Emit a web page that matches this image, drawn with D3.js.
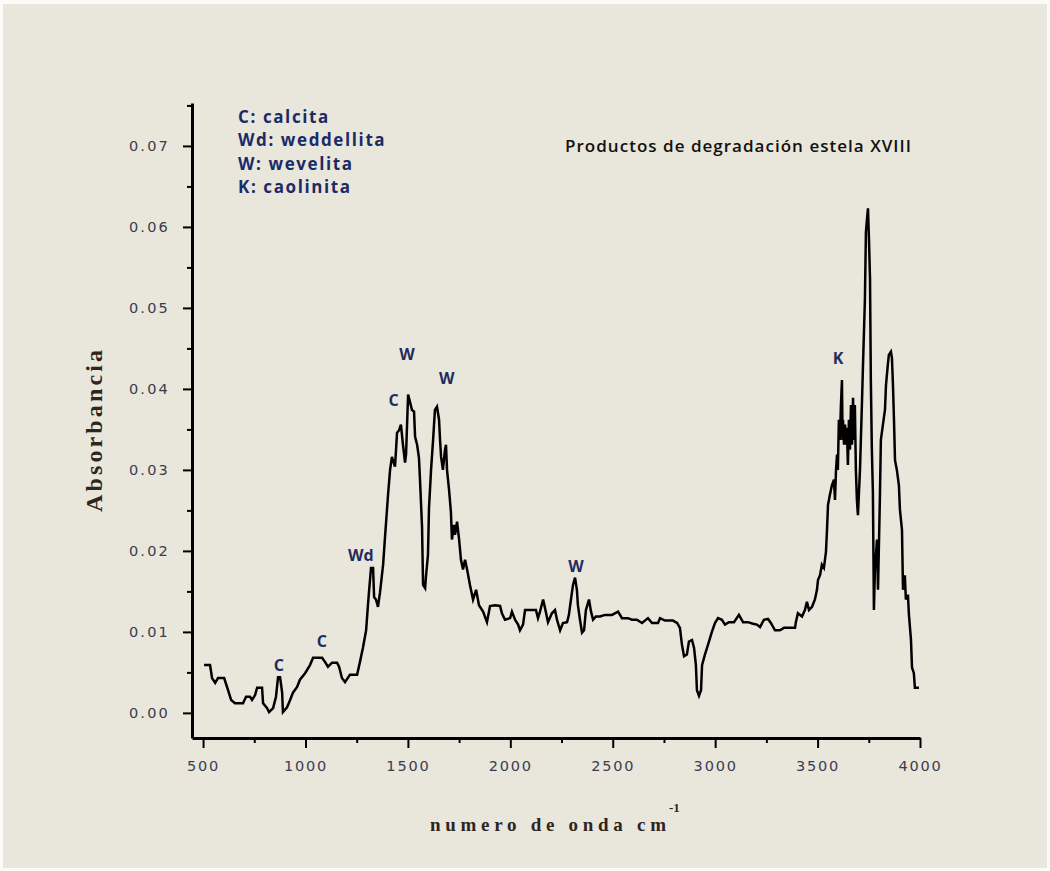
<!DOCTYPE html>
<html>
<head>
<meta charset="utf-8">
<script src="https://cdn.jsdelivr.net/npm/d3@7"></script>
<style>
  html, body { margin: 0; padding: 0; background: #fbfbf8; }
  svg { display: block; }
</style>
</head>
<body>
<div id="chart"></div>
<script>
// spectrum: wavenumber (cm-1) and absorbance
const wavenumber = [
  505, 534, 544, 559, 573, 603, 622, 637, 656, 695, 710, 729, 739, 754, 764, 788, 793, 812, 822, 842,
  856, 866, 876, 886, 890, 910, 925, 939, 959, 973, 998, 1022, 1037, 1081, 1095, 1110, 1130, 1154, 1164, 1178,
  1193, 1217, 1252, 1266, 1281, 1296, 1305, 1310, 1320, 1330, 1335, 1344, 1354, 1364, 1379, 1388, 1403, 1413, 1422, 1437,
  1447, 1457, 1466, 1476, 1486, 1491, 1501, 1510, 1520, 1530, 1535, 1545, 1554, 1559, 1569, 1574, 1584, 1588, 1598, 1603,
  1613, 1623, 1632, 1642, 1652, 1657, 1662, 1671, 1681, 1686, 1691, 1701, 1710, 1715, 1725, 1730, 1740, 1750, 1759, 1769,
  1779, 1789, 1803, 1818, 1833, 1847, 1867, 1886, 1901, 1925, 1950, 1959, 1974, 1999, 2008, 2023, 2038, 2047, 2062, 2072,
  2096, 2125, 2135, 2145, 2160, 2169, 2184, 2203, 2218, 2228, 2243, 2257, 2277, 2286, 2296, 2306, 2316, 2325, 2330, 2340,
  2350, 2360, 2369, 2384, 2394, 2404, 2418, 2438, 2462, 2496, 2526, 2545, 2574, 2594, 2618, 2643, 2672, 2692, 2721, 2731,
  2755, 2794, 2814, 2828, 2838, 2848, 2862, 2872, 2887, 2897, 2906, 2911, 2921, 2931, 2936, 2950, 2965, 2984, 2999, 3014,
  3033, 3048, 3067, 3092, 3116, 3136, 3160, 3185, 3204, 3219, 3238, 3258, 3272, 3292, 3316, 3336, 3365, 3390, 3394, 3404,
  3424, 3438, 3448, 3458, 3473, 3487, 3497, 3502, 3512, 3521, 3531, 3541, 3546, 3551, 3560, 3570, 3580, 3585, 3590, 3595,
  3599, 3604, 3609, 3614, 3619, 3622, 3624, 3629, 3634, 3638, 3643, 3648, 3653, 3658, 3663, 3668, 3673, 3678, 3682, 3687,
  3692, 3697, 3707, 3717, 3721, 3731, 3736, 3741, 3746, 3751, 3756, 3760, 3765, 3770, 3775, 3780, 3790, 3795, 3804, 3809,
  3819, 3829, 3834, 3843, 3848, 3858, 3863, 3868, 3873, 3878, 3887, 3897, 3902, 3912, 3917, 3926, 3931, 3941, 3946, 3956,
  3961, 3970, 3975, 3995
];
const absorbance = [
  .0059, .0059, .0043, .0037, .0043, .0043, .0028, .0016, .0012, .0012, .0020, .0020, .0016, .0022, .0031, .0031, .0012, .0006, .0001, .0006,
  .0020, .0044, .0044, .0025, .0001, .0007, .0016, .0025, .0032, .0041, .0049, .0059, .0068, .0068, .0063, .0057, .0062, .0062, .0057, .0043,
  .0038, .0047, .0047, .0063, .0081, .0102, .0133, .0149, .0179, .0179, .0143, .0140, .0131, .0149, .0183, .0216, .0269, .0300, .0316, .0304,
  .0346, .0349, .0356, .0331, .0309, .0319, .0393, .0384, .0374, .0372, .0341, .0331, .0315, .0288, .0230, .0158, .0154, .0168, .0195, .0253,
  .0300, .0337, .0374, .0378, .0362, .0337, .0316, .0300, .0325, .0331, .0300, .0275, .0248, .0214, .0232, .0220, .0236, .0214, .0189, .0177,
  .0189, .0177, .0158, .0140, .0152, .0133, .0125, .0112, .0132, .0133, .0132, .0123, .0115, .0117, .0125, .0115, .0109, .0102, .0109, .0127,
  .0127, .0127, .0117, .0125, .0140, .0130, .0112, .0123, .0127, .0115, .0102, .0111, .0112, .0121, .0140, .0158, .0167, .0152, .0133, .0115,
  .0099, .0102, .0127, .0140, .0125, .0115, .0119, .0119, .0121, .0121, .0125, .0117, .0117, .0115, .0115, .0111, .0117, .0111, .0111, .0117,
  .0114, .0114, .0111, .0105, .0084, .0070, .0072, .0088, .0090, .0080, .0059, .0028, .0021, .0028, .0059, .0072, .0084, .0100, .0111, .0117,
  .0115, .0109, .0112, .0112, .0121, .0112, .0112, .0110, .0109, .0106, .0115, .0116, .0111, .0102, .0102, .0105, .0105, .0105, .0112, .0123,
  .0119, .0127, .0137, .0127, .0131, .0140, .0152, .0164, .0170, .0183, .0179, .0199, .0226, .0257, .0269, .0281, .0288, .0263, .0300, .0319,
  .0300, .0362, .0337, .0380, .0411, .0337, .0362, .0331, .0356, .0331, .0352, .0306, .0362, .0325, .0380, .0331, .0389, .0337, .0380, .0300,
  .0263, .0244, .0300, .0386, .0423, .0510, .0594, .0609, .0623, .0584, .0535, .0411, .0325, .0273, .0127, .0177, .0214, .0152, .0263, .0337,
  .0356, .0374, .0405, .0430, .0442, .0446, .0438, .0405, .0362, .0312, .0300, .0281, .0251, .0226, .0152, .0170, .0140, .0146, .0121, .0090,
  .0056, .0049, .0031, .0031
];

const xTicks = [500, 1000, 1500, 2000, 2500, 3000, 3500, 4000];
const xMinorTicks = [750, 1250, 1750, 2250, 2750, 3250, 3750];
const yTicks = [0, 0.01, 0.02, 0.03, 0.04, 0.05, 0.06, 0.07];
const yMinorTicks = [0.005, 0.015, 0.025, 0.035, 0.045, 0.055, 0.065, 0.075];

const legendLines = ['C: calcita', 'Wd: weddellita', 'W: wevelita', 'K: caolinita'];
const peakLabels = ['C', 'C', 'Wd', 'C', 'W', 'W', 'W', 'K'];
const peakWavenumbers = [870, 1080, 1270, 1430, 1495, 1690, 2320, 3600];
const peakAbsorbance = [0.0052, 0.0081, 0.0188, 0.0379, 0.0436, 0.0406, 0.0174, 0.0431];

const chartTitle = 'Productos de degradación estela XVIII';
const xTitle = 'numero de onda cm';
const yTitle = 'Absorbancia';

const width = 1050, height = 871;
const svg = d3.select('#chart').append('svg')
  .attr('width', width)
  .attr('height', height);

// beige panel
svg.append('rect')
  .attr('x', 3).attr('y', 4)
  .attr('width', 1044).attr('height', 864)
  .style('fill', '#e9e6dc');

const x = d3.scaleLinear().domain([446, 4000]).range([192, 920]);
const y = d3.scaleLinear().domain([-0.0031, 0.0753]).range([738, 103]);

const tickFont = '"DejaVu Sans", Verdana, sans-serif';

// x axis
const xAxis = svg.append('g')
  .attr('transform', `translate(0,${y.range()[0]})`)
  .call(d3.axisBottom(x).tickValues(xTicks).tickSize(10).tickSizeOuter(0).tickPadding(13)
    .tickFormat(d3.format('d')));
xAxis.select('.domain').style('stroke', '#000').style('stroke-width', 3);
xAxis.selectAll('.tick line').style('stroke', '#000').style('stroke-width', 2);
xAxis.selectAll('.tick text')
  .style('font-family', tickFont).style('font-size', '14.5px')
  .style('letter-spacing', '1.8px').style('fill', '#3a3c4e');

svg.append('g')
  .attr('transform', `translate(0,${y.range()[0]})`)
  .call(d3.axisBottom(x).tickValues(xMinorTicks).tickSize(5).tickFormat(''))
  .call(g => g.select('.domain').remove())
  .selectAll('.tick line').style('stroke', '#000').style('stroke-width', 2);

// y axis
const yAxis = svg.append('g')
  .attr('transform', `translate(${x.range()[0]},0)`)
  .call(d3.axisLeft(y).tickValues(yTicks).tickSize(9).tickSizeOuter(0).tickPadding(13)
    .tickFormat(d3.format('.2f')));
yAxis.select('.domain').style('stroke', '#000').style('stroke-width', 3);
yAxis.selectAll('.tick line').style('stroke', '#000').style('stroke-width', 2);
yAxis.selectAll('.tick text')
  .style('font-family', tickFont).style('font-size', '14.5px')
  .style('letter-spacing', '2.2px').style('fill', '#3a3c4e');

svg.append('g')
  .attr('transform', `translate(${x.range()[0]},0)`)
  .call(d3.axisLeft(y).tickValues(yMinorTicks).tickSize(5).tickFormat(''))
  .call(g => g.select('.domain').remove())
  .selectAll('.tick line').style('stroke', '#000').style('stroke-width', 2);

// spectrum
const points = wavenumber.map((w, i) => [w, absorbance[i]]);
svg.append('path')
  .datum(points)
  .attr('d', d3.line().x(d => x(d[0])).y(d => y(d[1])))
  .style('fill', 'none')
  .style('stroke', '#000')
  .style('stroke-width', 2.5)
  .style('stroke-linejoin', 'miter');

// peak labels
svg.selectAll('.peak')
  .data(peakLabels)
  .enter()
  .append('text')
  .attr('class', 'peak')
  .attr('x', (d, i) => x(peakWavenumbers[i]))
  .attr('y', (d, i) => y(peakAbsorbance[i]))
  .attr('text-anchor', 'middle')
  .style('font-family', '"Open Sans", sans-serif')
  .style('font-weight', 700)
  .style('font-size', '16px')
  .style('fill', '#1f2d5c')
  .text(d => d);

// legend
svg.append('g').selectAll('text')
  .data(legendLines)
  .enter()
  .append('text')
  .attr('x', 238)
  .attr('y', (d, i) => 123 + i * 23.3)
  .style('font-family', '"Open Sans", sans-serif')
  .style('font-weight', 700)
  .style('font-size', '17px')
  .style('letter-spacing', '1.6px')
  .style('fill', '#1b2b66')
  .text(d => d);

// chart title
svg.append('text')
  .attr('x', 565).attr('y', 152)
  .attr('textLength', 346).attr('lengthAdjust', 'spacing')
  .style('font-family', '"Open Sans", sans-serif')
  .style('font-weight', 600)
  .style('font-size', '17px')
  .style('fill', '#111')
  .text(chartTitle);

// axis titles
const xt = svg.append('text')
  .attr('x', 430).attr('y', 831)
  .style('font-family', '"Liberation Serif", "Times New Roman", serif')
  .style('font-weight', 700)
  .style('font-size', '19px')
  .style('fill', '#2e251c');
xt.append('tspan').attr('textLength', 236).attr('lengthAdjust', 'spacing').text(xTitle);
svg.append('text')
  .attr('x', 669).attr('y', 812)
  .style('font-family', '"Liberation Serif", serif')
  .style('font-weight', 700)
  .style('font-size', '13px')
  .style('fill', '#2e251c')
  .text('-1');

svg.append('text')
  .attr('transform', 'translate(102,431) rotate(-90)')
  .attr('text-anchor', 'middle')
  .attr('textLength', 162).attr('lengthAdjust', 'spacing')
  .style('font-family', '"Liberation Serif", "Times New Roman", serif')
  .style('font-weight', 700)
  .style('font-size', '24px')
  .style('fill', '#2e251c')
  .text(yTitle);
</script>
</body>
</html>
